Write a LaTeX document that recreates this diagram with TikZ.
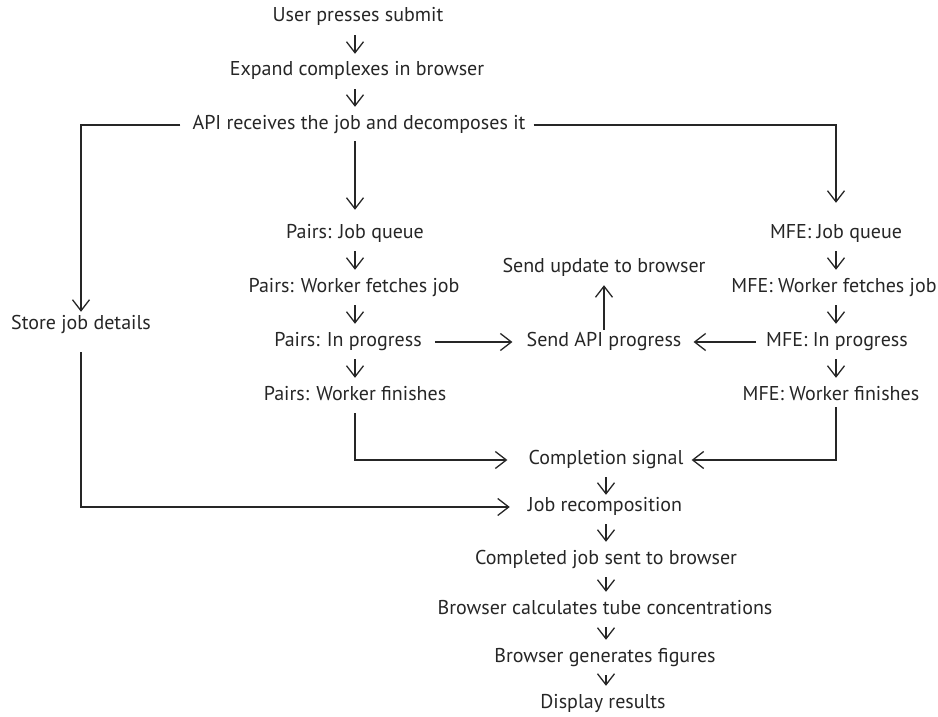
\documentclass[tikz,border=0pt]{standalone}
\usepackage{fontspec}
\setmainfont{PT Sans}
\usetikzlibrary{arrows.meta}
\begin{document}
\begin{tikzpicture}[x=1pt,y=-1pt,
  lbl/.style={inner sep=0pt, text height=12pt, text depth=4pt, font=\fontsize{20}{23}\selectfont, text=black!85},
  conn/.style={line width=1.3pt, draw=black!85, -{Straight Barb[length=11pt,width=17pt,line width=1.3pt]}},
  vflow/.style={conn, shorten <=9pt, shorten >=10pt}]
\useasboundingbox (0,0) rectangle (938,717);
% main column
\node[lbl] (user) at (358,18) {User presses submit};
\node[lbl] (expand) at (357,72) {Expand complexes in browser};
\node[lbl] (api) at (359,125) {API receives the job and decomposes it};
% pairs column
\node[lbl] (pq) at (355,234) {Pairs: Job queue};
\node[lbl] (pw) at (354,288) {Pairs: Worker fetches job};
\node[lbl] (pp) at (348,342) {Pairs: In progress};
\node[lbl] (pf) at (355,396) {Pairs: Worker finishes};
% mfe column
\node[lbl] (mq) at (836,234) {MFE: Job queue};
\node[lbl] (mw) at (834,288) {MFE: Worker fetches job};
\node[lbl] (mp) at (837,342) {MFE: In progress};
\node[lbl] (mf) at (831,396) {MFE: Worker finishes};
% left
\node[lbl] (store) at (81,325) {Store job details};
% middle
\node[lbl] (upd) at (604,268) {Send update to browser};
\node[lbl] (prog) at (604,342) {Send API progress};
\node[lbl] (cs) at (606,460) {Completion signal};
\node[lbl] (rec) at (605,507) {Job recomposition};
\node[lbl] (done) at (606,560) {Completed job sent to browser};
\node[lbl] (calc) at (605,610) {Browser calculates tube concentrations};
\node[lbl] (figs) at (605,658) {Browser generates figures};
\node[lbl] (disp) at (603,704) {Display results};
% connectors
\draw[vflow] (user.south -| pq.north) -- (expand.north -| pq.north);
\draw[vflow] (expand.south -| pq.north) -- (api.north -| pq.north);
\draw[conn, shorten <=8pt, shorten >=16pt] (api.south -| pq.north) -- (pq.north);
\draw[conn, shorten <=12pt, shorten >=5pt] (api.west) -| (store.north);
\draw[conn, shorten <=8pt, shorten >=23pt] (api.east) -| (mq.north);
\draw[vflow] (pq.south) -- (pw.north -| pq.south);
\draw[vflow] (pw.south -| pq.south) -- (pp.north -| pq.south);
\draw[vflow] (pp.south -| pq.south) -- (pf.north);
\draw[vflow] (mq.south) -- (mw.north -| mq.south);
\draw[vflow] (mw.south -| mq.south) -- (mp.north -| mq.south);
\draw[vflow] (mp.south -| mq.south) -- (mf.north -| mq.south);
\draw[conn, shorten <=13pt, shorten >=14pt] (pp.east) -- (prog.west);
\draw[conn, shorten <=10pt, shorten >=12pt] (mp.west) -- (prog.east);
\draw[conn, shorten <=4pt, shorten >=9pt] (prog.north) -- (upd.south);
\draw[conn, shorten <=19pt, shorten >=18pt] (store.south) |- (rec.west);
\draw[conn, shorten <=9pt, shorten >=21pt] (pf.south) |- (cs.west);
\draw[conn, shorten <=3pt, shorten >=8pt] (mf.south -| mq.south) |- (cs.east);
\draw[conn, shorten <=9pt, shorten >=4pt] (cs.south) -- (rec.north -| cs.south);
\draw[vflow] (rec.south -| cs.south) -- (done.north -| cs.south);
\draw[vflow] (done.south -| cs.south) -- (calc.north -| cs.south);
\draw[vflow] (calc.south -| cs.south) -- (figs.north -| cs.south);
\draw[vflow] (figs.south -| cs.south) -- (disp.north -| cs.south);
\end{tikzpicture}
\end{document}
